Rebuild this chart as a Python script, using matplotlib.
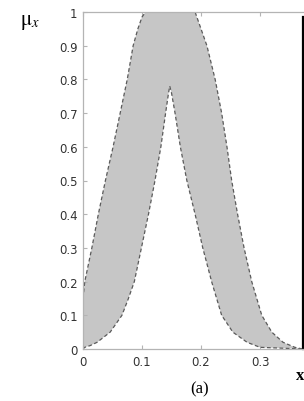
import matplotlib
matplotlib.use("Agg")
import matplotlib.pyplot as plt

# Upper membership function (x, mu)
upper_x = [0.000, 0.003, 0.015, 0.026, 0.038, 0.051, 0.063, 0.075, 0.085,
           0.093, 0.100, 0.106, 0.190, 0.200, 0.210, 0.224, 0.235, 0.244, 0.252,
           0.262, 0.273, 0.286, 0.303, 0.320, 0.339, 0.359, 0.372]
upper_mu = [0.15, 0.20, 0.30, 0.40, 0.50, 0.60, 0.70, 0.80, 0.90,
            0.95, 0.985, 1.00, 1.00, 0.95, 0.90, 0.80, 0.70, 0.60, 0.50,
            0.40, 0.30, 0.20, 0.10, 0.05, 0.02, 0.005, 0.0]

# Lower membership function (x, mu)
lower_x = [0.000, 0.003, 0.012, 0.024, 0.046, 0.066, 0.077, 0.087, 0.099, 0.111,
           0.122, 0.132, 0.140, 0.145, 0.147, 0.150, 0.156, 0.165, 0.176,
           0.190, 0.203, 0.218, 0.235, 0.254, 0.278, 0.300, 0.372]
lower_mu = [0.0, 0.005, 0.01, 0.02, 0.05, 0.10, 0.15, 0.20, 0.30, 0.40,
            0.50, 0.60, 0.70, 0.76, 0.78, 0.76, 0.70, 0.60, 0.50,
            0.40, 0.30, 0.20, 0.10, 0.05, 0.02, 0.005, 0.0]

x_ticks = [0, 0.1, 0.2, 0.3]
x_tick_labels = ["0", "0.1", "0.2", "0.3"]
y_ticks = [0, 0.1, 0.2, 0.3, 0.4, 0.5, 0.6, 0.7, 0.8, 0.9, 1]
y_tick_labels = ["0", "0.1", "0.2", "0.3", "0.4", "0.5", "0.6", "0.7", "0.8", "0.9", "1"]

fig = plt.figure(figsize=(3.04, 4.02), dpi=100)
ax = fig.add_axes([83/304, 52/402, 236/304, 337/402])

# footprint of uncertainty: polygon between the upper and lower curves
poly_x = list(upper_x) + list(reversed(lower_x))
poly_mu = list(upper_mu) + list(reversed(lower_mu))
ax.fill(poly_x, poly_mu, color="#c6c6c6", lw=0)
ax.plot(upper_x, upper_mu, color="#5a5a5a", lw=0.9, ls=(0, (3, 2)))
ax.plot(lower_x, lower_mu, color="#5a5a5a", lw=0.9, ls=(0, (3, 2)))

ax.set_xlim(0, 0.4)
ax.set_ylim(0, 1)
ax.set_xticks(x_ticks)
ax.set_xticklabels(x_tick_labels)
ax.set_yticks(y_ticks)
ax.set_yticklabels(y_tick_labels)
for s in ax.spines.values():
    s.set_color("#b4b4b4")
    s.set_linewidth(0.9)
ax.tick_params(direction="in", length=3, color="#b4b4b4", labelsize=8.5,
               labelcolor="#333333", top=True, pad=4)
for lab in ax.get_xticklabels() + ax.get_yticklabels():
    lab.set_family("DejaVu Sans")

# edge of the neighbouring panel
ax.plot([0.373, 0.373], [0, 0.985], color="black", lw=1.6, clip_on=False)

fig.text(30/304, 1 - 22/402, r"$\mathrm{\mu}_x$", fontsize=15,
         ha="center", va="center", math_fontfamily="stix")
fig.text(200/304, 1 - 389/402, "(a)", fontsize=12, family="Liberation Serif",
         ha="center", va="center")
fig.text(1.0, 1 - 376/402, "x", fontsize=12, family="Liberation Serif",
         ha="right", va="center", weight="bold")

fig.savefig("out.png", dpi=100)
